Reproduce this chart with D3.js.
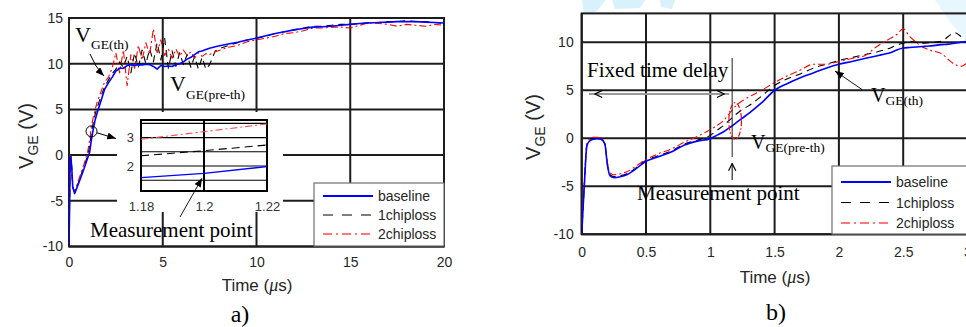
<!DOCTYPE html>
<html><head><meta charset="utf-8">
<script src="https://cdn.jsdelivr.net/npm/d3@7"></script>
<style>body{margin:0;background:#fff}svg{display:block}</style>
</head><body>
<svg id="c" width="966" height="327"></svg>
<script>
// ---------- DATA ----------
const seriesNames = ["baseline", "1chiploss", "2chiploss"];

// plot a) : time (us) and V_GE (V)
const aTime = [0,0.03,0.06,0.1,0.15,0.2,0.3,0.4,0.6,0.8,1.0,1.1,1.2,1.3,1.4,1.5,1.7,1.9,2.1,2.3,2.5,2.7,2.9,3.1,3.3,3.5,3.7,3.9,4.1,4.3,4.5,4.7,4.9,5.1,5.3,5.5,5.7,5.9,6.1,6.3,6.5,6.7,6.9,7.1,7.3,7.5,7.8,8.1,8.5,9,9.5,10,10.5,11,11.5,12,12.5,13,13.5,14,14.5,15,15.5,16,16.5,17,17.5,18,18.5,19,19.5,20];
const aBaseline = [-9.8,-6,-0.3,-0.2,-1.5,-3.5,-4.2,-3.7,-2.6,-1.5,-0.3,0.3,1.75,2.9,3.9,4.6,5.9,7.2,7.9,8.5,9.2,9.5,9.5,9.8,9.9,9.8,9.9,9.85,9.95,9.9,9.7,9.4,9.8,9.7,9.75,9.7,9.9,10.0,10.2,10.5,10.7,11.0,11.3,11.4,11.55,11.7,11.85,12.0,12.15,12.35,12.6,12.8,13.05,13.3,13.5,13.7,13.85,14.0,14.05,14.1,14.2,14.3,14.4,14.45,14.5,14.55,14.6,14.6,14.6,14.55,14.5,14.45];
const a1chip = [-9.8,-6,-0.2,-0.1,-1.4,-3.4,-4.1,-3.6,-2.4,-1.3,0,1.0,2.55,3.6,4.5,5.2,6.4,7.5,8.2,8.9,9.4,10.2,9.6,10.8,9.0,11.2,9.6,11.5,10.0,11.6,10.2,12.3,10.4,12.8,9.5,11.4,9.7,11.2,9.9,11.0,9.6,10.8,9.4,10.7,9.4,9.9,11.4,11.7,12.0,12.3,12.6,12.8,13.0,13.3,13.5,13.7,13.9,14.1,14.1,14.2,14.3,14.3,14.4,14.5,14.5,14.6,14.6,14.7,14.6,14.6,14.5,14.4];
const a2chip = [-9.5,-5,0,-0.3,-1.8,-3.6,-4.0,-3.4,-2.2,-1.0,0.4,1.6,3.2,4.2,5.0,5.8,6.9,8.0,8.5,9.5,11.2,9.0,11.5,7.6,11.0,9.5,12.0,10.4,12.3,11.0,13.8,11.2,12.6,10.9,11.6,10.6,11.6,10.8,11.5,10.9,11.3,10.6,11.2,10.8,11.1,11.0,11.3,11.5,11.8,12.0,12.4,12.6,12.8,13.0,13.3,13.4,13.6,13.9,13.9,14.0,14.0,13.9,14.2,14.5,14.4,14.3,14.1,14.3,14.2,14.1,14.3,14.2];

// inset of plot a) (zoom around the measurement point)
const insetTime = [1.18, 1.2, 1.22];
const insetBaseline = [1.59, 1.74, 1.98];
const inset1chip = [2.36, 2.54, 2.74];
const inset2chip = [2.94, 3.21, 3.48];

// plot b)
const bTime = [0,0.02,0.04,0.06,0.09,0.12,0.15,0.18,0.2,0.22,0.25,0.3,0.35,0.4,0.5,0.6,0.7,0.8,0.9,1.0,1.05,1.1,1.15,1.2,1.25,1.3,1.4,1.5,1.6,1.7,1.8,1.9,2.0,2.1,2.2,2.3,2.35,2.4,2.45,2.5,2.55,2.6,2.65,2.7,2.8,2.85,2.9,2.95,3.0];
const bBaseline = [-10,-5,-0.8,-0.3,-0.1,-0.05,-0.1,-0.6,-2.8,-3.9,-4.1,-4.0,-3.8,-3.4,-2.4,-1.9,-1.4,-0.7,-0.3,-0.05,0.3,0.65,1.1,1.6,2.1,2.6,3.7,5.0,5.7,6.3,6.8,7.3,7.7,8.0,8.3,8.6,8.75,8.9,9.2,9.4,9.45,9.5,9.55,9.6,9.75,9.8,9.9,10.0,10.1];
const b1chip = [-10,-5,-0.7,-0.2,0,0,-0.1,-0.6,-2.7,-3.8,-4.0,-3.9,-3.7,-3.3,-2.3,-1.8,-1.3,-0.6,-0.2,0.3,0.8,1.3,1.9,2.5,3.0,3.4,4.4,5.5,6.2,6.7,7.3,7.7,8.1,8.4,8.7,9.0,9.2,9.4,9.7,9.9,10.1,10.0,9.9,9.95,10.1,10.6,11.0,10.6,10.3];
const b2chip = [-9,-4.5,-0.6,-0.1,0.1,0.1,0,-0.5,-2.5,-3.6,-3.8,-3.7,-3.5,-3.1,-2.2,-1.6,-1.1,-0.4,0.2,0.9,1.3,1.8,2.6,3.4,3.9,4.3,5.0,5.8,6.5,7.1,7.7,7.7,8.0,8.3,8.6,9.6,10.0,10.4,10.8,11.4,10.6,10.0,9.5,9.2,8.8,8.2,7.7,7.5,7.9];

// ticks
const aXTicks = [0,5,10,15,20];
const aYTicks = [-10,-5,0,5,10,15];
const bXTicks = [0,0.5,1,1.5,2,2.5,3];
const bYTicks = [-10,-5,0,5,10];
const insetXTicks = [1.18,1.2,1.22];
const insetYTicks = [2,3];
const insetGrid = [1.5,2,2.5,3,3.5];

// annotation anchor values (data coordinates)
const aMeasure = {t: 1.2, v: 2.6};
const bMeasureT = 1.17;

// ---------- STYLES ----------
const style = {
  "baseline":  {color:"#0000ff", dash:null,        width:1.6},
  "1chiploss": {color:"#000000", dash:"7,5",       width:1.1},
  "2chiploss": {color:"#ff0000", dash:"7,3,2,3",   width:1.1}
};
const legendStyle = {
  "baseline":  {color:"#0000ff", dash:null,        width:2},
  "1chiploss": {color:"#000000", dash:"10,9",      width:1.1},
  "2chiploss": {color:"#ff4d4d", dash:"9,4,2,4",   width:1.3}
};
const gridColor = "#1c1c1c";
const tickFont = "'Liberation Sans', Arial, sans-serif";
const serif = "'Liberation Serif', 'Times New Roman', serif";

const svg = d3.select("#c");
const defs = svg.append("defs");
defs.append("marker").attr("id","ah").attr("viewBox","0 0 10 8").attr("refX",10).attr("refY",4)
  .attr("markerWidth",9).attr("markerHeight",7).attr("markerUnits","userSpaceOnUse").attr("orient","auto")
  .append("path").attr("d","M0,0 L10,4 L0,8 Z").attr("fill","#000");
defs.append("marker").attr("id","chev").attr("viewBox","0 0 10 10").attr("refX",9).attr("refY",5)
  .attr("markerWidth",9).attr("markerHeight",9).attr("markerUnits","userSpaceOnUse").attr("orient","auto-start-reverse")
  .append("path").attr("d","M1,1 L9,5 L1,9").attr("fill","none").attr("stroke","#000").attr("stroke-width",1.3);

// faint watermark shapes
const wm = svg.append("g").attr("fill","#d9f1fb");
wm.append("path").attr("d","M582,0 L606,0 L596,12 L584,14 Z");
wm.append("path").attr("d","M612,0 L645,0 L640,8 L615,9 Z");
wm.append("path").attr("d","M660,0 L675,0 L672,9 L661,7 Z");
wm.append("path").attr("d","M935,0 L966,0 L966,40 L950,22 Z").attr("opacity",0.6);

function drawPlot(cfg) {
  const g = svg.append("g");
  const x = d3.scaleLinear().domain(cfg.xDomain).range(cfg.xRange);
  const y = d3.scaleLinear().domain(cfg.yDomain).range(cfg.yRange);
  const [x0,x1] = cfg.xRange, [y0,y1] = [cfg.yRange[1], cfg.yRange[0]];
  // grid
  g.append("g").selectAll("line").data(cfg.xTicks).join("line")
    .attr("x1",d=>x(d)).attr("x2",d=>x(d)).attr("y1",y0).attr("y2",y1)
    .attr("stroke",gridColor).attr("stroke-width",2);
  g.append("g").selectAll("line").data(cfg.yTicks).join("line")
    .attr("x1",x0).attr("x2",x1).attr("y1",d=>y(d)).attr("y2",d=>y(d))
    .attr("stroke",gridColor).attr("stroke-width",2);
  g.append("rect").attr("x",x0).attr("y",y0).attr("width",x1-x0).attr("height",y1-y0)
    .attr("fill","none").attr("stroke",gridColor).attr("stroke-width",2);
  // axes labels
  const ax = g.append("g").attr("transform",`translate(0,${y1})`)
    .call(d3.axisBottom(x).tickValues(cfg.xTicks).tickSize(0).tickPadding(cfg.xPad).tickFormat(d=>String(d)));
  const ay = g.append("g").attr("transform",`translate(${x0},0)`)
    .call(d3.axisLeft(y).tickValues(cfg.yTicks).tickSize(0).tickPadding(cfg.yPad).tickFormat(d=>String(d)));
  [ax,ay].forEach(a=>{a.select(".domain").remove();
    a.selectAll("text").attr("font-family",tickFont).attr("font-size",14).attr("fill","#262626");});
  // curves
  const clip = "clip"+cfg.id;
  defs.append("clipPath").attr("id",clip).append("rect").attr("x",x0).attr("y",y0).attr("width",x1-x0).attr("height",y1-y0);
  const cg = g.append("g").attr("clip-path",`url(#${clip})`);
  const order = ["1chiploss","2chiploss","baseline"];
  order.forEach(name=>{
    const vals = cfg.series[name];
    const line = d3.line().x((d,i)=>x(cfg.time[i])).y(d=>y(d)).curve(cfg.curve);
    cg.append("path").datum(vals).attr("d",line).attr("fill","none")
      .attr("stroke",style[name].color).attr("stroke-width",style[name].width)
      .attr("stroke-dasharray",style[name].dash).attr("stroke-linejoin","round");
  });
  // axis titles
  const tx = g.append("text").attr("x",cfg.xTitleX).attr("y",cfg.xTitleY)
    .attr("text-anchor","middle").attr("font-family",tickFont).attr("font-size",17).attr("fill","#262626");
  tx.append("tspan").text("Time (");
  tx.append("tspan").text("μ").attr("font-family",serif).attr("font-style","italic").attr("font-size",18);
  tx.append("tspan").text("s)");
  const ty = g.append("text").attr("transform",`translate(${cfg.yTitleX},${cfg.yTitleY}) rotate(-90)`)
    .attr("text-anchor","middle").attr("font-family",tickFont).attr("font-size",20).attr("fill","#262626");
  ty.append("tspan").text("V");
  ty.append("tspan").text("GE").attr("font-size",14).attr("dy",5);
  ty.append("tspan").text(" (V)").attr("dy",-5);
  // panel letter
  g.append("text").attr("x",cfg.letterX).attr("y",cfg.letterY).attr("text-anchor","middle")
    .attr("font-family",serif).attr("font-size",24).attr("fill","#000").text(cfg.letter);
  return {g,x,y};
}

function legend(x0,y0,w,h,rowY) {
  const lg = svg.append("g");
  lg.append("rect").attr("x",x0).attr("y",y0).attr("width",w).attr("height",h)
    .attr("fill","#fff").attr("stroke","#6e6e6e").attr("stroke-width",1.2);
  seriesNames.forEach((n,i)=>{
    const yy = rowY[i];
    lg.append("line").attr("x1",x0+9).attr("x2",x0+59).attr("y1",yy).attr("y2",yy)
      .attr("stroke",legendStyle[n].color).attr("stroke-width",legendStyle[n].width).attr("stroke-dasharray",legendStyle[n].dash);
    lg.append("text").attr("x",x0+64).attr("y",yy+5).attr("font-family",tickFont).attr("font-size",14)
      .attr("fill","#262626").text(n);
  });
}

function vLabel(parent,x,y,sub,size,subSize,dy) {
  const t = parent.append("text").attr("x",x).attr("y",y).attr("font-family",serif).attr("fill","#000");
  t.append("tspan").text("V").attr("font-size",size);
  t.append("tspan").text(sub).attr("font-size",subSize).attr("dy",dy);
}

// ---------- PLOT A ----------
const A = drawPlot({id:"a", xDomain:[0,20], xRange:[69,444], yDomain:[-10,15], yRange:[246.5,18],
  xTicks:aXTicks, yTicks:aYTicks, xPad:11, yPad:6, time:aTime,
  series:{"baseline":aBaseline,"1chiploss":a1chip,"2chiploss":a2chip}, curve:d3.curveLinear,
  xTitleX:257, xTitleY:291, yTitleX:33, yTitleY:136, letter:"a)", letterX:240, letterY:322});

// inset
const inset = svg.append("g");
inset.append("rect").attr("x",117).attr("y",112).attr("width",166).attr("height",100).attr("fill","#fff");
const ix = d3.scaleLinear().domain([1.18,1.22]).range([141,267]);
const iy = d3.scaleLinear().domain([1.12,3.62]).range([191,120]);
inset.selectAll(".hg").data(insetGrid).join("line").attr("x1",ix(1.18)).attr("x2",ix(1.22))
  .attr("y1",d=>iy(d)).attr("y2",d=>iy(d)).attr("stroke","#000").attr("stroke-width",1.1);
inset.append("line").attr("x1",ix(1.2)).attr("x2",ix(1.2)).attr("y1",iy(3.62)).attr("y2",iy(1.12))
  .attr("stroke","#000").attr("stroke-width",2);
inset.append("rect").attr("x",ix(1.18)).attr("y",iy(3.62)).attr("width",ix(1.22)-ix(1.18)).attr("height",iy(1.12)-iy(3.62))
  .attr("fill","none").attr("stroke","#000").attr("stroke-width",2);
const insetSeries = {"baseline":insetBaseline,"1chiploss":inset1chip,"2chiploss":inset2chip};
["2chiploss","1chiploss","baseline"].forEach(n=>{
  const ln = d3.line().x((d,i)=>ix(insetTime[i])).y(d=>iy(d));
  inset.append("path").datum(insetSeries[n]).attr("d",ln).attr("fill","none")
    .attr("stroke",legendStyle[n].color).attr("stroke-width",n==="baseline"?1.3:1.1)
    .attr("stroke-dasharray",n==="1chiploss"?"8,5":(n==="2chiploss"?"7,3,2,3":null));
});
const iax = inset.append("g").attr("transform",`translate(0,${iy(1.12)})`)
  .call(d3.axisBottom(ix).tickValues(insetXTicks).tickSize(0).tickPadding(11).tickFormat(d=>String(d)));
const iay = inset.append("g").attr("transform",`translate(${ix(1.18)},0)`)
  .call(d3.axisLeft(iy).tickValues(insetYTicks).tickSize(0).tickPadding(7).tickFormat(d=>String(d)));
[iax,iay].forEach(a=>{a.select(".domain").remove();
  a.selectAll("text").attr("font-family",tickFont).attr("font-size",13).attr("fill","#333");});

// annotations a
const annA = svg.append("g");
vLabel(annA,75,42,"GE(th)",22,13.5,7);
vLabel(annA,170,91,"GE(pre-th)",22,13.5,8);
annA.append("path").attr("d","M90,54 Q95,67 104,76").attr("fill","none").attr("stroke","#000").attr("stroke-width",1).attr("marker-end","url(#ah)");
annA.append("circle").attr("cx",A.x(aMeasure.t)).attr("cy",A.y(aMeasure.v)).attr("r",5.5).attr("fill","none").attr("stroke","#000").attr("stroke-width",1);
annA.append("line").attr("x1",A.x(aMeasure.t)+5.5).attr("y1",A.y(aMeasure.v)+1.5).attr("x2",116).attr("y2",138.5)
  .attr("stroke","#000").attr("stroke-width",1).attr("marker-end","url(#ah)");
annA.append("line").attr("x1",180).attr("y1",217).attr("x2",ix(1.2)-2).attr("y2",iy(1.71)+4)
  .attr("stroke","#000").attr("stroke-width",0.9).attr("marker-end","url(#ah)");
annA.append("text").attr("x",90).attr("y",237).attr("font-family",serif).attr("font-size",21).attr("fill","#000").text("Measurement point");

legend(314,183,130,63,[196,215,234]);

// ---------- PLOT B ----------
const B = drawPlot({id:"b", xDomain:[0,3], xRange:[581.7,967.5], yDomain:[-10,13], yRange:[234.3,13.4],
  xTicks:bXTicks, yTicks:bYTicks, xPad:13, yPad:8, time:bTime,
  series:{"baseline":bBaseline,"1chiploss":b1chip,"2chiploss":b2chip}, curve:d3.curveMonotoneX,
  xTitleX:775, xTitleY:283, yTitleX:540, yTitleY:127, letter:"b)", letterX:776, letterY:320});

const annB = svg.append("g");
annB.append("text").attr("x",587).attr("y",77).attr("font-family",serif).attr("font-size",21).attr("fill","#000").text("Fixed time delay");
annB.append("line").attr("x1",589).attr("x2",B.x(bMeasureT)-3).attr("y1",94).attr("y2",94)
  .attr("stroke","#9a9a9a").attr("stroke-width",2.2);
annB.append("line").attr("x1",595).attr("x2",B.x(bMeasureT)-8).attr("y1",94).attr("y2",94)
  .attr("stroke","#000").attr("stroke-width",0.01)
  .attr("marker-start","url(#chev)").attr("marker-end","url(#chev)");
annB.append("line").attr("x1",B.x(bMeasureT)).attr("x2",B.x(bMeasureT)).attr("y1",58).attr("y2",157)
  .attr("stroke","#222").attr("stroke-width",1);
annB.append("line").attr("x1",B.x(bMeasureT)).attr("x2",B.x(bMeasureT)).attr("y1",180).attr("y2",163.5)
  .attr("stroke","#000").attr("stroke-width",1).attr("marker-end","url(#chev)");
annB.append("ellipse").attr("cx",B.x(bMeasureT)+3).attr("cy",121).attr("rx",6.3).attr("ry",18.3)
  .attr("fill","none").attr("stroke","#ff0000").attr("stroke-width",1.2).attr("stroke-dasharray","5,2,1.5,2");
vLabel(annB,751,149,"GE(pre-th)",20,13.5,3);
vLabel(annB,871,101.5,"GE(th)",20,13.5,3);
annB.append("line").attr("x1",862).attr("y1",89.5).attr("x2",835).attr("y2",71)
  .attr("stroke","#000").attr("stroke-width",0.9).attr("marker-end","url(#ah)");
annB.append("text").attr("x",637).attr("y",200).attr("font-family",serif).attr("font-size",21).attr("fill","#000").text("Measurement point");

legend(832,166,140,68,[182,202.5,223]);
</script>
</body></html>
